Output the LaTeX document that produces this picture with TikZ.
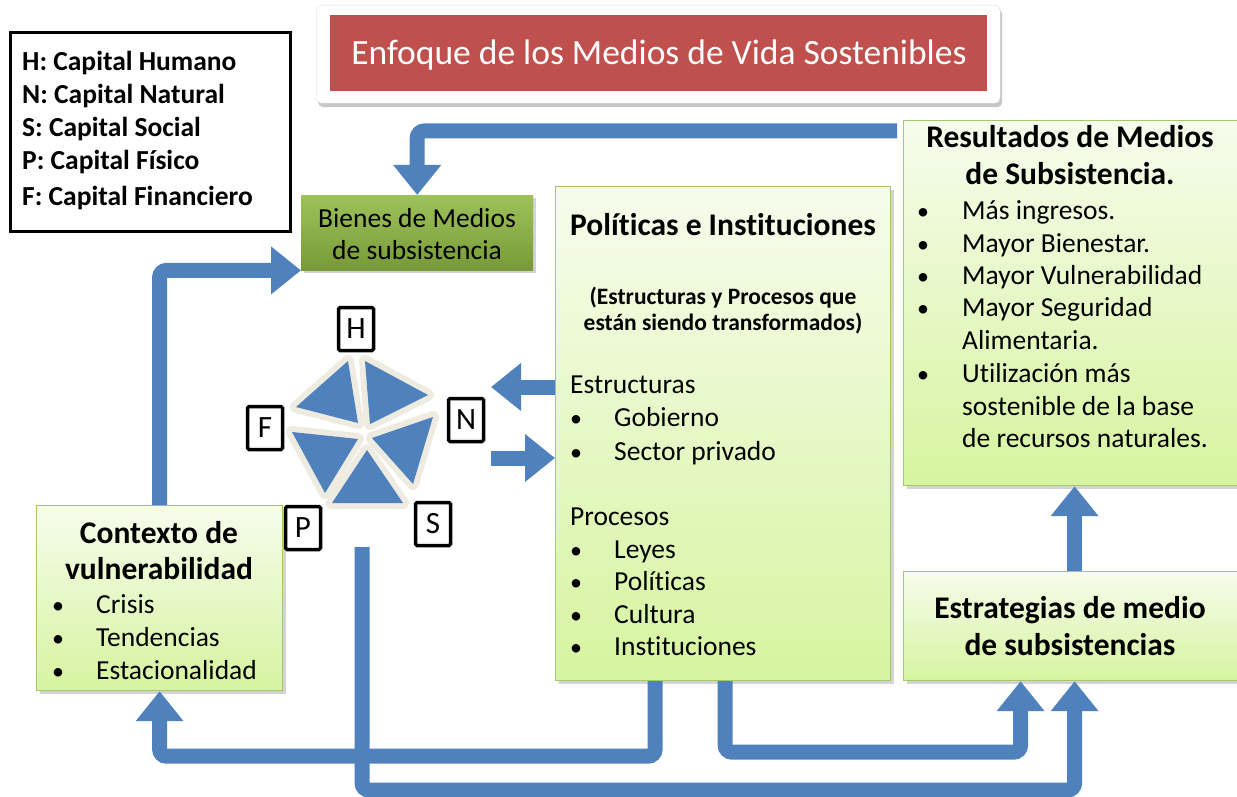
\documentclass[tikz,border=0pt]{standalone}
\usepackage{fontspec}
\setmainfont{Carlito}[Ligatures={NoCommon}]
\usetikzlibrary{arrows.meta,shadows,calc}
\definecolor{flowblue}{HTML}{4F81BD}
\definecolor{beigec}{HTML}{EEECE1}
\definecolor{titlered}{HTML}{C0504D}
\definecolor{boxedge}{HTML}{A6C86A}
\definecolor{lighttop}{HTML}{F6FCEC}
\definecolor{lightbot}{HTML}{D6F4A0}
\definecolor{gtop}{HTML}{9EC25A}
\definecolor{gbot}{HTML}{779A38}
\tikzset{
  lightbox/.style={draw=boxedge, line width=1.2pt, top color=lighttop, bottom color=lightbot,
    drop shadow={shadow xshift=3pt, shadow yshift=-3pt, opacity=0.35}},
  greenbox/.style={draw=none, top color=gtop, bottom color=gbot,
    drop shadow={shadow xshift=3pt, shadow yshift=-3pt, opacity=0.35}},
  flow/.style={draw=flowblue, line width=15pt, rounded corners=7pt,
    -{Triangle[width=46pt,length=30pt]}},
  letterbox/.style={draw=black, line width=3.5pt, rounded corners=1.5pt, fill=white,
    minimum width=35pt, minimum height=43pt, inner sep=0pt, font=\fontsize{31}{36}\selectfont},
  txt/.style={anchor=base west, inner sep=0pt, font=\fontsize{27.5}{32}\selectfont},
  ctxt/.style={anchor=base, inner sep=0pt, font=\fontsize{27.5}{32}\selectfont},
  btitle/.style={anchor=base, inner sep=0pt, font=\bfseries\fontsize{31.5}{36}\selectfont},
  legtxt/.style={anchor=base west, inner sep=0pt, font=\bfseries\fontsize{27.5}{32}\selectfont},
  bul/.style={anchor=base west, inner sep=0pt, font=\fontsize{24}{28}\selectfont},
  tri/.style={draw=beigec, fill=beigec, line width=12pt, line join=round},
  trib/.style={fill=flowblue}
}
\begin{document}
\begin{tikzpicture}[x=1pt,y=-1pt]
\useasboundingbox (0,0) rectangle (1237,797);

% legend
\node[draw=black, line width=3pt, minimum width=280pt, minimum height=199pt, inner sep=0pt, anchor=north west] (legend) at (9,31) {};
\node[legtxt] (l1) at (22,71) {H: Capital Humano};
\node[legtxt] (l2) at (22,104) {N: Capital Natural};
\node[legtxt] (l3) at (22,137) {S: Capital Social};
\node[legtxt] (l4) at (22,169) {P: Capital Físico};
\node[legtxt] (l5) at (22,205) {F: Capital Financiero};

% title
\node[draw=black!15, fill=white, rounded corners=5pt, minimum width=684pt, minimum height=98pt, anchor=north west,
  drop shadow={shadow xshift=2pt, shadow yshift=-4pt, opacity=0.45}] (titleback) at (316,5) {};
\node[fill=titlered, minimum width=657pt, minimum height=76pt, anchor=north west, inner sep=0pt] (titlebox) at (330,15) {};
\node[anchor=base, inner sep=0pt, text=white, font=\fontsize{35.5}{40}\selectfont] (titletxt) at (659,65) {Enfoque de los Medios de Vida Sostenibles};

% boxes
\node[greenbox, minimum width=232pt, minimum height=75pt, anchor=north west, inner sep=0pt] (bienes) at (301,195) {};
\node[ctxt] (b1) at (417,227) {Bienes de Medios};
\node[ctxt] (b2) at (417,259) {de subsistencia};

\node[lightbox, minimum width=335pt, minimum height=494pt, anchor=north west, inner sep=0pt] (pol) at (555,186) {};
\node[btitle] (p0) at (723,235) {Políticas e Instituciones};
\node[anchor=base, inner sep=0pt, font=\bfseries\fontsize{23.5}{28}\selectfont] (p1) at (723,304) {(Estructuras y Procesos que};
\node[anchor=base, inner sep=0pt, font=\bfseries\fontsize{23.5}{28}\selectfont] (p2) at (723,330) {están siendo transformados)};
\node[txt] (p3) at (570,393) {Estructuras};
\node[bul] (pb1) at (570,426) {\textbullet};
\node[txt] (p4) at (614,426) {Gobierno};
\node[bul] (pb2) at (570,460) {\textbullet};
\node[txt] (p5) at (614,460) {Sector privado};
\node[txt] (p6) at (570,525) {Procesos};
\node[bul] (pb3) at (570,558) {\textbullet};
\node[txt] (p7) at (614,558) {Leyes};
\node[bul] (pb4) at (570,590) {\textbullet};
\node[txt] (p8) at (614,590) {Políticas};
\node[bul] (pb5) at (570,623) {\textbullet};
\node[txt] (p9) at (614,623) {Cultura};
\node[bul] (pb6) at (570,655) {\textbullet};
\node[txt] (p10) at (614,655) {Instituciones};

\node[lightbox, minimum width=342pt, minimum height=365pt, anchor=north west, inner sep=0pt] (res) at (903,120) {};
\node[btitle] (r0) at (1070,148) {Resultados de Medios};
\node[btitle] (r1) at (1070,185) {de Subsistencia.};
\node[bul] (rb1) at (917,219) {\textbullet};
\node[txt] (r2) at (962,219) {Más ingresos.};
\node[bul] (rb2) at (917,252) {\textbullet};
\node[txt] (r3) at (962,252) {Mayor Bienestar.};
\node[bul] (rb3) at (917,284) {\textbullet};
\node[txt] (r4) at (962,284) {Mayor Vulnerabilidad};
\node[bul] (rb4) at (917,316) {\textbullet};
\node[txt] (r5) at (962,316) {Mayor Seguridad};
\node[txt] (r6) at (962,349) {Alimentaria.};
\node[bul] (rb5) at (917,382) {\textbullet};
\node[txt] (r7) at (962,382) {Utilización más};
\node[txt] (r8) at (962,415) {sostenible de la base};
\node[txt] (r9) at (962,447) {de recursos naturales.};

\node[lightbox, minimum width=342pt, minimum height=109pt, anchor=north west, inner sep=0pt] (est) at (903,571) {};
\node[btitle] (e1) at (1070,618) {Estrategias de medio};
\node[btitle] (e2) at (1070,655) {de subsistencias};

\node[lightbox, minimum width=246pt, minimum height=185pt, anchor=north west, inner sep=0pt] (cont) at (36,505) {};
\node[btitle] (c1) at (159,543) {Contexto de};
\node[btitle] (c2) at (159,579) {vulnerabilidad};
\node[bul] (cb1) at (52,613) {\textbullet};
\node[txt] (c3) at (96,613) {Crisis};
\node[bul] (cb2) at (52,646) {\textbullet};
\node[txt] (c4) at (96,646) {Tendencias};
\node[bul] (cb3) at (52,679) {\textbullet};
\node[txt] (c5) at (96,679) {Estacionalidad};

% pentagon
\path[tri] (365,361) -- (428,395) -- (370,424) -- cycle;
\path[tri] (348,361) -- (296,407) -- (358,423) -- cycle;
\path[tri] (433,417) -- (413,484) -- (372,438) -- cycle;
\path[tri] (367,450) -- (332,503) -- (403,503) -- cycle;
\path[tri] (292,432) -- (358,439) -- (325,493) -- cycle;
\path[trib] (365,361) -- (428,395) -- (370,424) -- cycle;
\path[trib] (348,361) -- (296,407) -- (358,423) -- cycle;
\path[trib] (433,417) -- (413,484) -- (372,438) -- cycle;
\path[trib] (367,450) -- (332,503) -- (403,503) -- cycle;
\path[trib] (292,432) -- (358,439) -- (325,493) -- cycle;

\node[letterbox] (H) at (356,329) {H};
\node[letterbox] (N) at (466,420) {N};
\node[letterbox] (F) at (265,428) {F};
\node[letterbox] (P) at (303,528) {P};
\node[letterbox] (S) at (433,524) {S};

\coordinate (pentin) at (491,387);
\coordinate (pentout) at (491,458);
\coordinate (pentbot) at (362,547);

% connectors
\draw[flow] ([shift={(-6,11)}]res.north west) -| (bienes.north);
\draw[flow] (cont.north) |- (bienes.south west);
\draw[flow] (pol.west |- pentin) -- (pentin);
\draw[flow] (pentout) -- (pol.west |- pentout);
\draw[flow] ([xshift=-68]pol.south) -- ++(0,75) -| (cont.south);
\draw[flow] ([xshift=2]pol.south) -- ++(0,71) -| ([xshift=-54]est.south);
\draw[flow] (pentbot) -- ++(0,243) -| (est.south);
\draw[flow] (est.north) -- (res.south);
\end{tikzpicture}
\end{document}
